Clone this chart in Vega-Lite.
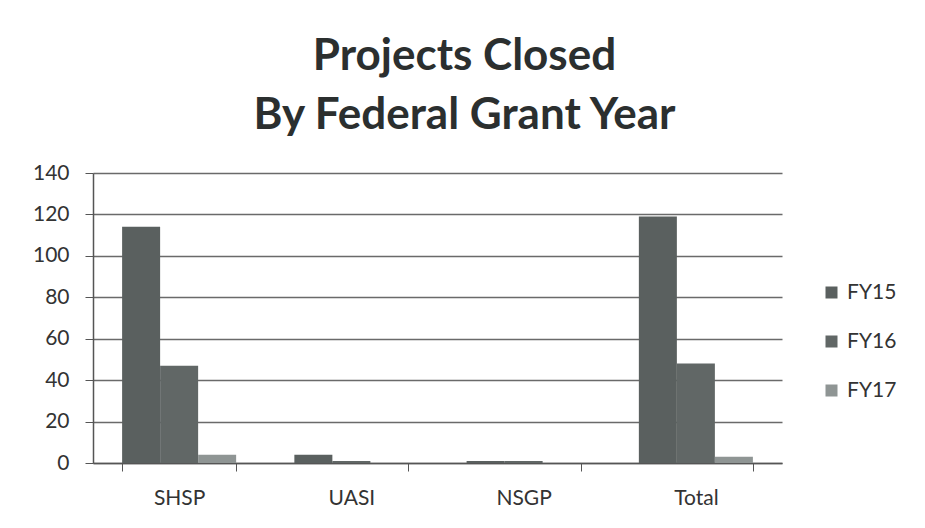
{
  "$schema": "https://vega.github.io/schema/vega-lite/v6.json",
  "autosize": "none",
  "width": 689,
  "height": 290,
  "padding": {"left": 93, "top": 173, "right": 143, "bottom": 65},
  "background": "white",
  "title": {
    "text": ["Projects Closed", "By Federal Grant Year"],
    "font": "Lato",
    "fontSize": 44,
    "fontWeight": "bold",
    "color": "#2b2f2f",
    "lineHeight": 59,
    "anchor": "middle",
    "dx": 27,
    "offset": 24
  },
  "data": {
    "values": [
      {"program": "SHSP", "year": "FY15", "projects": 114},
      {"program": "SHSP", "year": "FY16", "projects": 47},
      {"program": "SHSP", "year": "FY17", "projects": 4},
      {"program": "UASI", "year": "FY15", "projects": 4},
      {"program": "UASI", "year": "FY16", "projects": 1},
      {"program": "UASI", "year": "FY17", "projects": 0},
      {"program": "NSGP", "year": "FY15", "projects": 1},
      {"program": "NSGP", "year": "FY16", "projects": 1},
      {"program": "NSGP", "year": "FY17", "projects": 0},
      {"program": "Total", "year": "FY15", "projects": 119},
      {"program": "Total", "year": "FY16", "projects": 48},
      {"program": "Total", "year": "FY17", "projects": 3}
    ]
  },
  "mark": {"type": "bar"},
  "encoding": {
    "x": {
      "field": "program",
      "type": "nominal",
      "sort": ["SHSP", "UASI", "NSGP", "Total"],
      "scale": {"paddingInner": 0.338, "paddingOuter": 0.169},
      "axis": {
        "title": null,
        "labelAngle": 0,
        "labelFont": "Lato",
        "labelFontSize": 21,
        "labelColor": "#333333",
        "labelPadding": 16,
        "tickBand": "extent",
        "tickSize": 8,
        "tickColor": "#555555",
        "domainColor": "#555555",
        "domainWidth": 1.5
      }
    },
    "xOffset": {"field": "year", "type": "nominal", "scale": {"paddingInner": 0, "paddingOuter": 0}},
    "y": {
      "field": "projects",
      "type": "quantitative",
      "scale": {"domain": [0, 140]},
      "axis": {
        "title": null,
        "values": [0, 20, 40, 60, 80, 100, 120, 140],
        "labelFont": "Lato",
        "labelFontSize": 21,
        "labelColor": "#333333",
        "labelPadding": 16,
        "tickSize": 8,
        "tickColor": "#555555",
        "domainColor": "#555555",
        "domainWidth": 1.5,
        "grid": true,
        "gridColor": "#6a6a6a",
        "gridWidth": 1.3
      }
    },
    "color": {
      "field": "year",
      "type": "nominal",
      "scale": {"domain": ["FY15", "FY16", "FY17"], "range": ["#5a605f", "#616766", "#8f9594"]},
      "legend": {
        "title": null,
        "orient": "none",
        "legendX": 728,
        "legendY": 109,
        "symbolType": "square",
        "symbolSize": 144,
        "symbolStrokeWidth": 0,
        "labelFont": "Lato",
        "labelFontSize": 21,
        "labelColor": "#333333",
        "labelOffset": 5,
        "rowPadding": 27
      }
    }
  },
  "config": {"view": {"stroke": null}}
}
